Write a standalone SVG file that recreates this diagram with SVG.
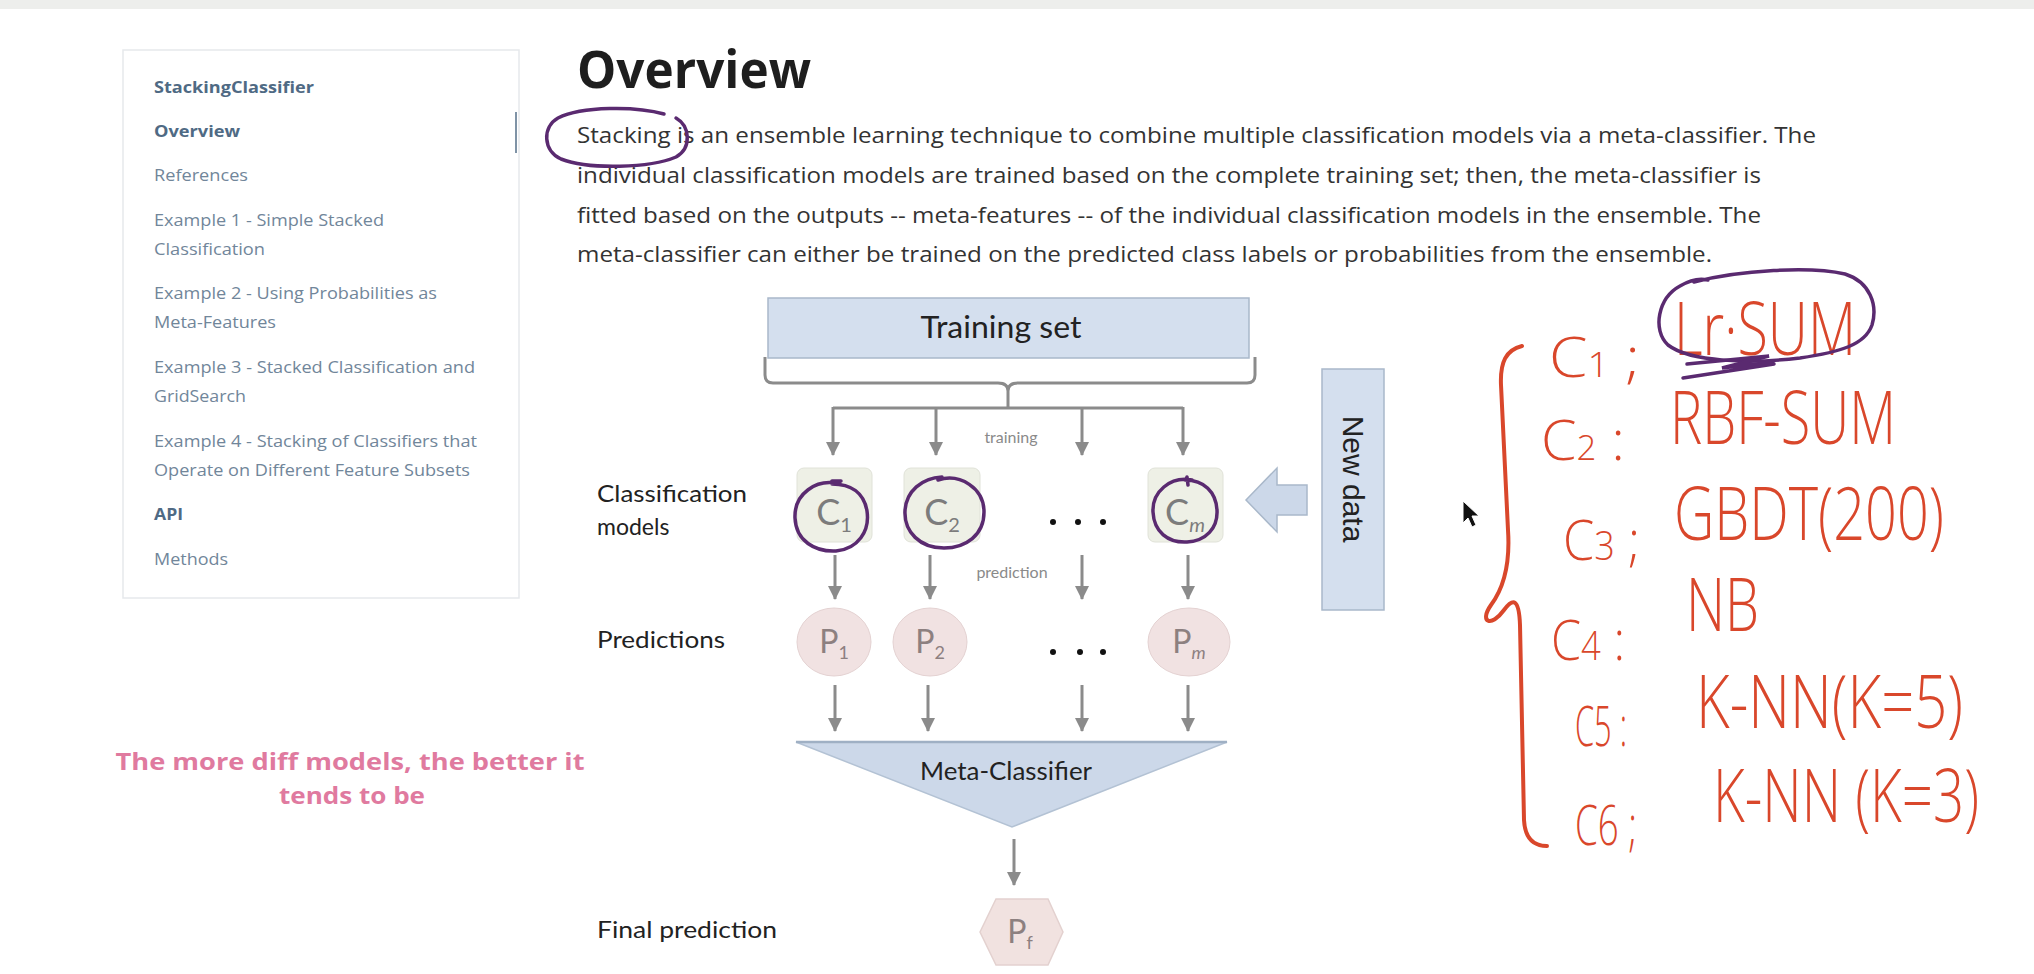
<svg xmlns="http://www.w3.org/2000/svg" width="2034" height="974" viewBox="0 0 2034 974">
<style>
.side{font-family:"Open Sans","Liberation Sans",sans-serif;font-size:16px;fill:#71869a}
.sideb{font-family:"Open Sans","Liberation Sans",sans-serif;font-size:16px;font-weight:700;fill:#4f6a84}
.para{font-family:"Open Sans","Liberation Sans",sans-serif;font-size:21px;fill:#333}
.lbl{font-family:Lato,"Open Sans","Liberation Sans",sans-serif;font-size:23px;fill:#222}
.small{font-family:Lato,"Open Sans","Liberation Sans",sans-serif;font-size:16px;fill:#8a8a8a}
.sym{font-family:Lato,"Open Sans","Liberation Sans",sans-serif;fill:#7c7c7c;text-anchor:middle}
.psym{font-family:Lato,"Open Sans","Liberation Sans",sans-serif;fill:#8d8080;text-anchor:middle}
.conn{stroke:#8b8b8b;stroke-width:3;fill:none}
.cbox{fill:#eef0e6;stroke:#e0e2d8;stroke-width:1}
.pnode{fill:#f1e2e2;stroke:#e4d2d2;stroke-width:1}
.blue{fill:#d4dfee;stroke:#a9b8ca;stroke-width:1.5}
.pur{stroke:#5a2a70;stroke-width:3.5;fill:none;stroke-linecap:round}
.red{font-family:"Open Sans","Liberation Sans",sans-serif;font-weight:300;fill:#d9472b}
.redv{font-family:"Open Sans","Liberation Sans",sans-serif;font-weight:300;fill:#d9472b;font-size:57px}
.redl{stroke:#d9472b;stroke-width:4;fill:none;stroke-linecap:round}
.note{font-family:"Open Sans","Liberation Sans",sans-serif;font-size:24px;font-weight:700;fill:#e07a9f;text-anchor:middle}
.dot{fill:#111}
</style>
<defs>
<marker id="ah" markerWidth="14" markerHeight="14" refX="13" refY="7" orient="auto" markerUnits="userSpaceOnUse">
<path d="M0,0 L14,7 L0,14 z" fill="#8b8b8b"/>
</marker>
</defs>
<rect x="0" y="0" width="2034" height="974" fill="#ffffff"/>
<rect x="0" y="0" width="2034" height="9" fill="#edeeec"/>

<g id="sidebar">
<rect x="123" y="50" width="396" height="548" fill="#ffffff" stroke="#e6e9ec" stroke-width="1.5"/>
<line x1="516" y1="112" x2="516" y2="153" stroke="#7f93a6" stroke-width="2"/>
<text class="sideb" x="154" y="93" textLength="160" lengthAdjust="spacingAndGlyphs">StackingClassifier</text>
<text class="sideb" x="154" y="137" textLength="86" lengthAdjust="spacingAndGlyphs">Overview</text>
<text class="side" x="154" y="181" textLength="94" lengthAdjust="spacingAndGlyphs">References</text>
<text class="side" x="154" y="226" textLength="230" lengthAdjust="spacingAndGlyphs">Example 1 - Simple Stacked</text>
<text class="side" x="154" y="255" textLength="111" lengthAdjust="spacingAndGlyphs">Classification</text>
<text class="side" x="154" y="299" textLength="283" lengthAdjust="spacingAndGlyphs">Example 2 - Using Probabilities as</text>
<text class="side" x="154" y="328" textLength="122" lengthAdjust="spacingAndGlyphs">Meta-Features</text>
<text class="side" x="154" y="373" textLength="321" lengthAdjust="spacingAndGlyphs">Example 3 - Stacked Classification and</text>
<text class="side" x="154" y="402" textLength="92" lengthAdjust="spacingAndGlyphs">GridSearch</text>
<text class="side" x="154" y="447" textLength="323" lengthAdjust="spacingAndGlyphs">Example 4 - Stacking of Classifiers that</text>
<text class="side" x="154" y="476" textLength="316" lengthAdjust="spacingAndGlyphs">Operate on Different Feature Subsets</text>
<text class="sideb" x="154" y="520" textLength="29" lengthAdjust="spacingAndGlyphs">API</text>
<text class="side" x="154" y="565" textLength="74" lengthAdjust="spacingAndGlyphs">Methods</text>
</g>

<g id="heading">
<text x="577" y="88" font-family="'Open Sans','Liberation Sans',sans-serif" font-size="52" font-weight="700" fill="#1e1e1e" textLength="234" lengthAdjust="spacingAndGlyphs">Overview</text>
<text class="para" x="577" y="143" textLength="1239" lengthAdjust="spacingAndGlyphs">Stacking is an ensemble learning technique to combine multiple classification models via a meta-classifier. The</text>
<text class="para" x="577" y="183" textLength="1184" lengthAdjust="spacingAndGlyphs">individual classification models are trained based on the complete training set; then, the meta-classifier is</text>
<text class="para" x="577" y="223" textLength="1184" lengthAdjust="spacingAndGlyphs">fitted based on the outputs -- meta-features -- of the individual classification models in the ensemble. The</text>
<text class="para" x="577" y="262" textLength="1135" lengthAdjust="spacingAndGlyphs">meta-classifier can either be trained on the predicted class labels or probabilities from the ensemble.</text>
<path class="pur" d="M664,114 C636,106 582,106 558,118 C542,127 543,151 561,159 C590,170 650,168 676,157 C692,148 690,126 676,118"/>
</g>

<g id="note">
<text class="note" x="350" y="770" textLength="469" lengthAdjust="spacingAndGlyphs">The more diff models, the better it</text>
<text class="note" x="352" y="804" textLength="146" lengthAdjust="spacingAndGlyphs">tends to be</text>
</g>

<g id="labels">
<text class="lbl" x="597" y="502" textLength="150" lengthAdjust="spacingAndGlyphs">Classification</text>
<text class="lbl" x="597" y="535">models</text>
<text class="lbl" x="597" y="648" textLength="128" lengthAdjust="spacingAndGlyphs">Predictions</text>
<text class="lbl" x="597" y="938" textLength="180" lengthAdjust="spacingAndGlyphs">Final prediction</text>
<text class="small" x="1011" y="443" text-anchor="middle">training</text>
<text class="small" x="1012" y="578" text-anchor="middle">prediction</text>
</g>

<g id="connectors">
<path class="conn" d="M765,357 L765,375 Q765,383 773,383 L998,383 Q1008,383 1008,391 Q1008,383 1018,383 L1247,383 Q1255,383 1255,375 L1255,357"/>
<path class="conn" d="M1008,391 L1008,408 M833,408 L1183,408"/>
<line class="conn" x1="833" y1="407" x2="833" y2="455" marker-end="url(#ah)"/>
<line class="conn" x1="936" y1="407" x2="936" y2="455" marker-end="url(#ah)"/>
<line class="conn" x1="1082" y1="407" x2="1082" y2="455" marker-end="url(#ah)"/>
<line class="conn" x1="1183" y1="407" x2="1183" y2="455" marker-end="url(#ah)"/>
<line class="conn" x1="835" y1="555" x2="835" y2="599" marker-end="url(#ah)"/>
<line class="conn" x1="930" y1="555" x2="930" y2="599" marker-end="url(#ah)"/>
<line class="conn" x1="1082" y1="555" x2="1082" y2="599" marker-end="url(#ah)"/>
<line class="conn" x1="1188" y1="555" x2="1188" y2="599" marker-end="url(#ah)"/>
<line class="conn" x1="835" y1="685" x2="835" y2="731" marker-end="url(#ah)"/>
<line class="conn" x1="928" y1="685" x2="928" y2="731" marker-end="url(#ah)"/>
<line class="conn" x1="1082" y1="685" x2="1082" y2="731" marker-end="url(#ah)"/>
<line class="conn" x1="1188" y1="685" x2="1188" y2="731" marker-end="url(#ah)"/>
<line class="conn" x1="1014" y1="839" x2="1014" y2="885" marker-end="url(#ah)"/>
</g>

<g id="node-training-set">
<rect class="blue" x="768" y="298" width="481" height="60"/>
<text x="1001" y="338" text-anchor="middle" font-family="Lato,'Open Sans','Liberation Sans',sans-serif" font-size="30" fill="#222" textLength="161" lengthAdjust="spacingAndGlyphs">Training set</text>
</g>

<g id="node-c1">
<rect class="cbox" x="797" y="468" width="75" height="74" rx="7"/>
<text class="sym" x="834" y="525" font-size="36">C<tspan font-size="20" dy="7">1</tspan></text>
<path class="pur" d="M840,484 C816,478 794,494 795,518 C796,541 815,552 836,551 C858,549 870,531 867,511 C864,493 851,484 832,484 M832,481 L841,481"/>
</g>
<g id="node-c2">
<rect class="cbox" x="904" y="468" width="76" height="74" rx="7"/>
<text class="sym" x="942" y="525" font-size="36">C<tspan font-size="20" dy="7">2</tspan></text>
<path class="pur" d="M938,480 C960,473 984,488 984,512 C984,535 966,548 944,548 C920,548 904,532 905,511 C906,491 922,478 942,477"/>
</g>
<g id="node-dots-c">
<circle class="dot" cx="1053" cy="522" r="3"/>
<circle class="dot" cx="1078" cy="522" r="3"/>
<circle class="dot" cx="1103" cy="522" r="3"/>
</g>
<g id="node-cm">
<rect class="cbox" x="1148" y="468" width="75" height="74" rx="7"/>
<text class="sym" x="1185" y="525" font-size="36">C<tspan font-size="20" dy="7" font-style="italic">m</tspan></text>
<path class="pur" d="M1192,480 C1170,476 1152,492 1153,512 C1154,532 1168,543 1187,542 C1206,541 1218,528 1217,510 C1216,492 1204,480 1185,480 M1187,477 L1188,485"/>
</g>

<g id="node-p1">
<ellipse class="pnode" cx="834" cy="642" rx="37" ry="34"/>
<text class="psym" x="834" y="653" font-size="32">P<tspan font-size="18" dy="6">1</tspan></text>
</g>
<g id="node-p2">
<ellipse class="pnode" cx="930" cy="642" rx="37" ry="34"/>
<text class="psym" x="930" y="653" font-size="32">P<tspan font-size="18" dy="6">2</tspan></text>
</g>
<g id="node-dots-p">
<circle class="dot" cx="1053" cy="652" r="3"/>
<circle class="dot" cx="1080" cy="652" r="3"/>
<circle class="dot" cx="1103" cy="652" r="3"/>
</g>
<g id="node-pm">
<ellipse class="pnode" cx="1189" cy="642" rx="41" ry="34"/>
<text class="psym" x="1189" y="653" font-size="32">P<tspan font-size="18" dy="6" font-style="italic">m</tspan></text>
</g>

<g id="node-meta-classifier">
<polygon points="796,742 1227,742 1012,827" fill="#ccd8e9" stroke="#b3c2d4" stroke-width="1.5"/>
<line x1="796" y1="742" x2="1227" y2="742" stroke="#9fb0c4" stroke-width="2.5"/>
<text x="1006" y="780" text-anchor="middle" font-family="Lato,'Open Sans','Liberation Sans',sans-serif" font-size="25" fill="#222" textLength="172" lengthAdjust="spacingAndGlyphs">Meta-Classifier</text>
</g>

<g id="node-pf">
<polygon points="980,932 996,899 1048,899 1063,932 1048,965 996,965" fill="#f1e2e0" stroke="#e3d1cf" stroke-width="1.5"/>
<text class="psym" x="1020" y="943" font-size="32">P<tspan font-size="18" dy="6">f</tspan></text>
</g>

<g id="node-new-data">
<rect class="blue" x="1322" y="369" width="62" height="241"/>
<text transform="translate(1343,479) rotate(90)" text-anchor="middle" font-family="'Liberation Sans',Arial,sans-serif" font-size="30" fill="#222">New data</text>
<polygon points="1246,500 1277,468 1277,485 1307,485 1307,515 1277,515 1277,532" fill="#ccd8e9" stroke="#a9b8ca" stroke-width="1.5"/>
</g>

<g id="cursor">
<path d="M1463,501 L1463,523 L1468,518 L1472,527 L1476,525 L1472,516 L1479,516 Z" fill="#111" stroke="#fff" stroke-width="1"/>
</g>

<g id="handwriting">
<path class="redl" d="M1522,346 C1506,350 1500,362 1501,385 L1508,530 C1510,560 1506,585 1491,605 C1479,622 1491,628 1504,610 C1513,598 1519,598 1520,625 L1524,820 C1525,838 1533,846 1547,846"/>
<text class="red" x="1549" y="377" font-size="56" textLength="91" lengthAdjust="spacingAndGlyphs">C<tspan font-size="34">1</tspan> ;</text>
<text class="redv" transform="translate(1674,355) scale(1,1.3)" textLength="182" lengthAdjust="spacingAndGlyphs">Lr·SUM</text>
<text class="red" x="1541" y="460" font-size="56" textLength="84" lengthAdjust="spacingAndGlyphs">C<tspan font-size="34">2</tspan> :</text>
<text class="redv" transform="translate(1670,444) scale(1,1.3)" textLength="226" lengthAdjust="spacingAndGlyphs">RBF-SUM</text>
<text class="red" x="1563" y="560" font-size="56" textLength="77" lengthAdjust="spacingAndGlyphs">C<tspan font-size="40">3</tspan> ;</text>
<text class="redv" transform="translate(1674,540) scale(1,1.3)" textLength="270" lengthAdjust="spacingAndGlyphs">GBDT(200)</text>
<text class="red" x="1551" y="660" font-size="56" textLength="74" lengthAdjust="spacingAndGlyphs">C<tspan font-size="40">4</tspan> :</text>
<text class="redv" transform="translate(1686,631) scale(1,1.3)" textLength="73" lengthAdjust="spacingAndGlyphs">NB</text>
<text class="red" x="1575" y="746" font-size="56" textLength="52" lengthAdjust="spacingAndGlyphs">C5 :</text>
<text class="redv" transform="translate(1696,728) scale(1,1.3)" textLength="267" lengthAdjust="spacingAndGlyphs">K-NN(K=5)</text>
<text class="red" x="1575" y="845" font-size="56" textLength="62" lengthAdjust="spacingAndGlyphs">C6 ;</text>
<text class="redv" transform="translate(1713,822) scale(1,1.3)" textLength="266" lengthAdjust="spacingAndGlyphs">K-NN (K=3)</text>
<path class="pur" d="M1694,282 C1740,270 1810,266 1845,274 C1870,282 1878,305 1872,325 C1865,345 1840,352 1800,358 C1750,364 1690,362 1668,345 C1652,330 1658,298 1680,286 C1690,280 1700,278 1708,280"/>
<path class="pur" d="M1687,364 L1769,356 L1722,368 L1773,362 M1683,378 L1774,364"/>
</g>
</svg>
